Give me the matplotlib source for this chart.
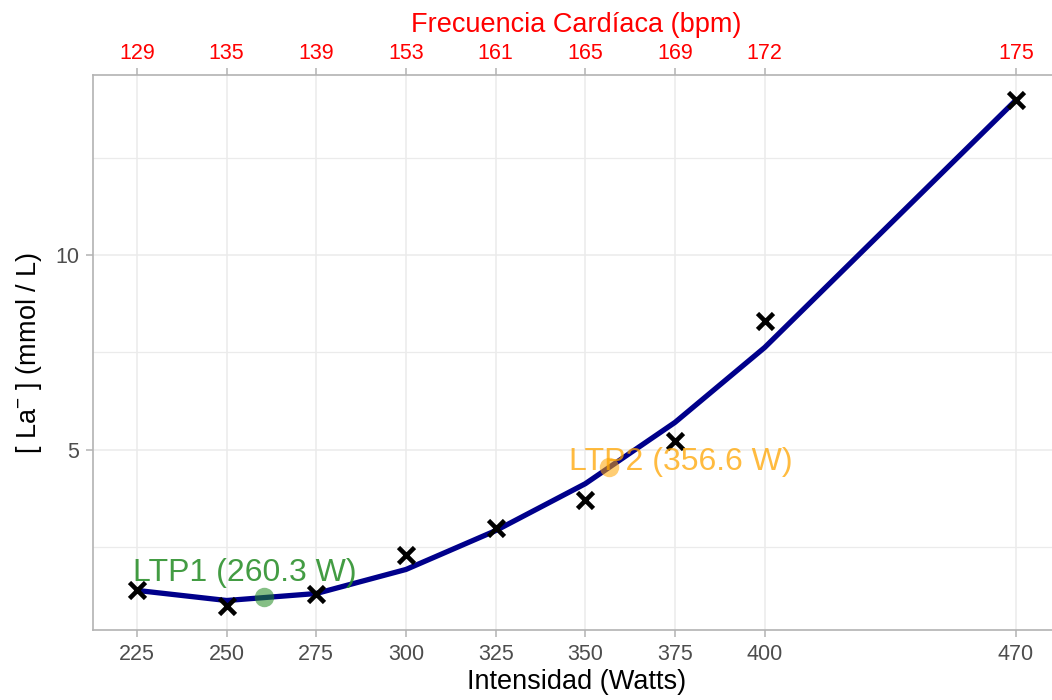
import matplotlib
matplotlib.use("Agg")
import matplotlib.pyplot as plt

plt.rcParams['font.family'] = ['Liberation Sans', 'DejaVu Sans']
plt.rcParams['mathtext.fontset'] = 'custom'
plt.rcParams['mathtext.rm'] = 'Liberation Sans'

watts = [225, 250, 275, 300, 325, 350, 375, 400, 470]
heart_rate = [129, 135, 139, 153, 161, 165, 169, 172, 175]
lactate = [1.37, 0.98, 1.29, 2.29, 2.99, 3.69, 5.21, 8.30, 14.0]
lactate_fit = [1.37, 1.11, 1.29, 1.91, 2.91, 4.12, 5.70, 7.63, 14.0]
ltp1_w, ltp1_la = 260.3, 1.19
ltp2_w, ltp2_la = 356.6, 4.54

fig = plt.figure(figsize=(10.52, 7.0), dpi=100)
ax = fig.add_axes([0.0884, 0.1, 0.919, 0.7929])

grid_c = '#EBEBEB'
border_c = '#B3B3B3'
tick_c = '#4D4D4D'

for y in [2.5, 7.5, 12.5]:
    ax.axhline(y, color=grid_c, lw=0.9, zorder=0)
for y in [5, 10]:
    ax.axhline(y, color=grid_c, lw=1.1, zorder=0)
for x in watts:
    ax.axvline(x, color=grid_c, lw=1.1, zorder=0)

ax.plot(watts, lactate_fit, color='#00008B', lw=3.8, zorder=2, solid_capstyle='butt')
ax.plot(watts, lactate, linestyle='none', marker='x', color='black', markersize=12, mew=3.3, zorder=3)

ax.plot([ltp1_w], [ltp1_la], 'o', color='#228B22', alpha=0.55, markersize=14, mew=0, zorder=4)
ax.plot([ltp2_w], [ltp2_la], 'o', color='#FFA500', alpha=0.55, markersize=14, mew=0, zorder=4)
ax.text(255, 1.83, 'LTP1 (260.3 W)', color='#228B22', alpha=0.85, fontsize=23, ha='center', va='center', zorder=5)
ax.text(376.6, 4.69, 'LTP2 (356.6 W)', color='#FFA500', alpha=0.75, fontsize=23, ha='center', va='center', zorder=5)

ax.set_xlim(212.75, 482.25)
ax.set_ylim(0.35, 14.65)
ax.set_xticks(watts)
ax.set_xticklabels([str(w) for w in watts])
ax.set_yticks([5, 10])
ax.set_yticklabels(['5', '10'])
ax.tick_params(axis='both', colors=border_c, labelcolor=tick_c, labelsize=15.5, length=5, width=1.1, pad=5)
for s in ax.spines.values():
    s.set_color(border_c)
    s.set_linewidth(1.2)

ax.set_xlabel('Intensidad (Watts)', fontsize=19.5, color='black', labelpad=3)
ax.set_ylabel(r'[ La$^{-}$ ] (mmol / L)', fontsize=19.5, color='black', labelpad=8)

ax2 = ax.twiny()
ax2.set_xlim(ax.get_xlim())
ax2.set_xticks(watts)
ax2.set_xticklabels([str(h) for h in heart_rate])
ax2.tick_params(axis='x', colors=border_c, labelcolor='#FF0000', labelsize=15.5, length=5, width=1.1, pad=3)
for s in ax2.spines.values():
    s.set_visible(False)
ax2.set_xlabel('Frecuencia Cardíaca (bpm)', fontsize=19.5, color='#FF0000', labelpad=8)

fig.savefig('out.png', dpi=100)
